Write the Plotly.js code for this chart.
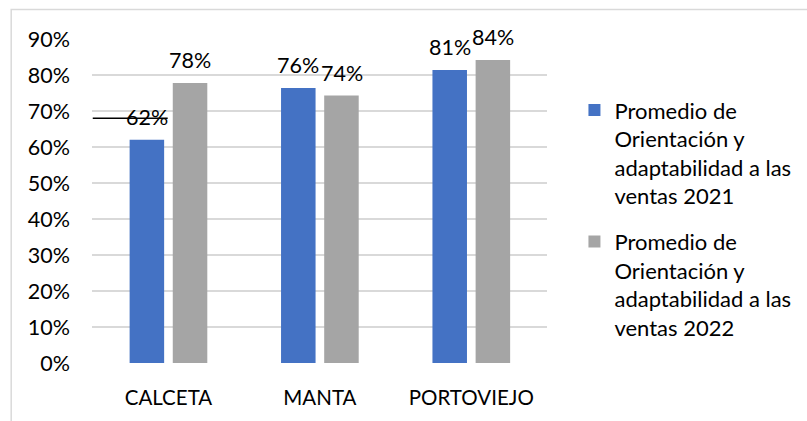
<!DOCTYPE html>
<html>
<head>
<meta charset="utf-8">
<script src="https://cdn.plot.ly/plotly-3.0.1.min.js"></script>
<style>
  html, body { margin: 0; padding: 0; background: #ffffff; overflow: hidden; }
  #chart { width: 807px; height: 421px; }
</style>
</head>
<body>
<div id="chart"></div>
<script>
// ---- data ----
const categories = ["CALCETA", "MANTA", "PORTOVIEJO"];
const values2021 = [0.62, 0.764, 0.814];
const values2022 = [0.778, 0.743, 0.842];
const seriesNames = [
  "Promedio de<br>Orientación y<br>adaptabilidad a las<br>ventas 2021",
  "Promedio de<br>Orientación y<br>adaptabilidad a las<br>ventas 2022"
];
const yTickVals = [0, 0.1, 0.2, 0.3, 0.4, 0.5, 0.6, 0.7, 0.8, 0.9];
const yTickText = ["0%", "10%", "20%", "30%", "40%", "50%", "60%", "70%", "80%", "90%"];
const strayLineValue = 0.68;

// ---- styles ----
const FONT = "Lato, 'Open Sans', sans-serif";
const colors = ["#4472C4", "#A5A5A5"];

const traces = [values2021, values2022].map((vals, i) => ({
  type: "bar",
  x: categories,
  y: vals,
  name: seriesNames[i],
  legendgroup: "g" + i,
  marker: { color: colors[i] },
  hoverinfo: "skip"
}));

const offsets = [-21.75, 21.75];
const annotations = [];
[values2021, values2022].forEach((vals, i) => {
  vals.forEach((v, j) => {
    annotations.push({
      x: categories[j], y: v, xref: "x", yref: "y",
      text: Math.round(v * 100) + "%",
      showarrow: false, xanchor: "center", yanchor: "bottom",
      xshift: offsets[i], yshift: 8,
      font: { family: FONT, size: 21.5, color: "#000000" }
    });
  });
});

const layout = {
  width: 807, height: 421,
  margin: { l: 92, r: 259, t: 39, b: 58 },
  paper_bgcolor: "#ffffff", plot_bgcolor: "#ffffff",
  font: { family: FONT, size: 21, color: "#000000" },
  barmode: "group",
  bargap: 0.43,
  bargroupgap: 0.2,
  xaxis: {
    type: "category",
    showgrid: false, zeroline: false, showline: false,
    ticks: "", ticklabelstandoff: 20,
    tickfont: { family: FONT, size: 20.5, color: "#000000" },
    fixedrange: true
  },
  yaxis: {
    range: [0, 0.9],
    tickvals: yTickVals, ticktext: yTickText,
    showgrid: true, gridcolor: "#d9d9d9", gridwidth: 1.3,
    zeroline: false, showline: false, ticks: "",
    ticklabelstandoff: 21,
    tickfont: { family: FONT, size: 21.5, color: "#000000" },
    fixedrange: true
  },
  showlegend: true,
  legend: {
    x: 1.058, y: 0.845, xanchor: "left", yanchor: "top",
    valign: "top",
    font: { family: FONT, size: 22, color: "#000000" },
    tracegroupgap: 14,
    bgcolor: "rgba(0,0,0,0)"
  },
  annotations: annotations,
  shapes: [
    {
      type: "rect", xref: "paper", yref: "paper",
      x0: -0.1776, x1: 1.58, y0: -0.2, y1: 1.091,
      line: { color: "#d9d9d9", width: 1.5 }, fillcolor: "rgba(0,0,0,0)",
      layer: "below"
    },
    {
      type: "line", xref: "x", yref: "y",
      x0: -0.5, x1: -0.005, y0: strayLineValue, y1: strayLineValue,
      line: { color: "#000000", width: 1.5 }
    }
  ]
};

Plotly.newPlot("chart", traces, layout, { displayModeBar: false, staticPlot: true });
</script>
</body>
</html>
